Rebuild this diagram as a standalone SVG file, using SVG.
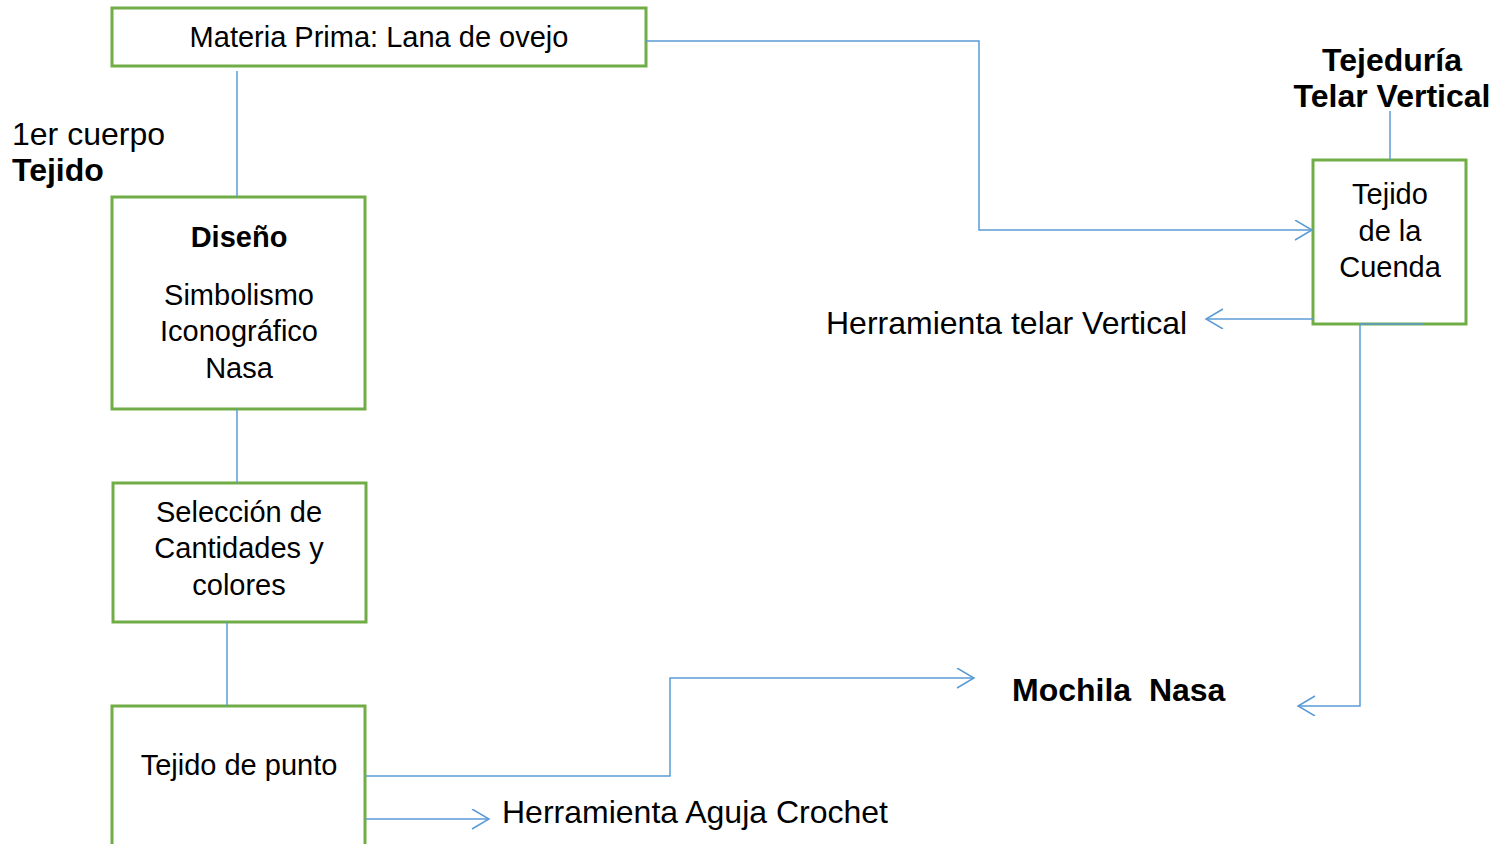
<svg xmlns="http://www.w3.org/2000/svg" width="1500" height="844" viewBox="0 0 1500 844">
<style>
.box{fill:#fff;stroke:#70AD47;stroke-width:3}
.ln{fill:none;stroke:#5B9BD5;stroke-width:1.5}
.t{font-family:"Liberation Sans",Arial,sans-serif;font-size:29px;fill:#000}
.c{text-anchor:middle}
.b{font-weight:bold}
.l{font-size:32px}
</style>
<defs>
<marker id="ah" markerUnits="userSpaceOnUse" markerWidth="24" markerHeight="24" refX="18" refY="10" orient="auto" viewBox="0 0 24 24">
<path d="M1,0 L18,10 L1,20" fill="none" stroke="#5B9BD5" stroke-width="1.5"/>
</marker>
</defs>
<rect width="1500" height="844" fill="#fff"/>
<g id="materia">
<rect class="box" x="112" y="8" width="534" height="58"/>
<text class="t c" x="379" y="47">Materia Prima: Lana de ovejo</text>
</g>
<g id="label-cuerpo">
<text class="t l" x="12" y="145">1er cuerpo</text>
<text class="t l b" x="12" y="181">Tejido</text>
</g>
<g id="diseno">
<rect class="box" x="112" y="197" width="253" height="212"/>
<text class="t c b" x="239" y="247">Diseño</text>
<text class="t c" x="239" y="305">Simbolismo</text>
<text class="t c" x="239" y="341">Iconográfico</text>
<text class="t c" x="239" y="378">Nasa</text>
</g>
<g id="seleccion">
<rect class="box" x="113" y="483" width="253" height="139"/>
<text class="t c" x="239" y="522">Selección de</text>
<text class="t c" x="239" y="558">Cantidades y</text>
<text class="t c" x="239" y="595">colores</text>
</g>
<g id="punto">
<rect class="box" x="112" y="706" width="253" height="160"/>
<text class="t c" x="239" y="775">Tejido de punto</text>
</g>
<g id="aguja">
<text class="t l" x="502" y="823">Herramienta Aguja Crochet</text>
</g>
<g id="tejeduria">
<text class="t l b c" x="1392" y="71">Tejeduría</text>
<text class="t l b c" x="1392" y="107">Telar Vertical</text>
</g>
<g id="cuenda">
<rect class="box" x="1313" y="160" width="153" height="164"/>
<text class="t c" x="1390" y="204">Tejido</text>
<text class="t c" x="1390" y="241">de la</text>
<text class="t c" x="1390" y="277">Cuenda</text>
</g>
<g id="telar">
<text class="t l" x="826" y="334">Herramienta telar Vertical</text>
</g>
<g id="mochila">
<text class="t l b" x="1012" y="701" xml:space="preserve">Mochila  Nasa</text>
</g>
<g id="connectors">
<path class="ln" d="M237,71 V197"/>
<path class="ln" d="M237,409 V483"/>
<path class="ln" d="M227,622 V706"/>
<path class="ln" d="M646,41 H979 V230 H1312" marker-end="url(#ah)"/>
<path class="ln" d="M1390,111 V160"/>
<path class="ln" d="M1313,319 H1206" marker-end="url(#ah)"/>
<path class="ln" d="M1360,324 V706 H1298" marker-end="url(#ah)"/>
<path class="ln" d="M1360,324 H1423"/>
<path class="ln" d="M365,776 H670 V678 H974" marker-end="url(#ah)"/>
<path class="ln" d="M365,819 H489" marker-end="url(#ah)"/>
</g>
</svg>
